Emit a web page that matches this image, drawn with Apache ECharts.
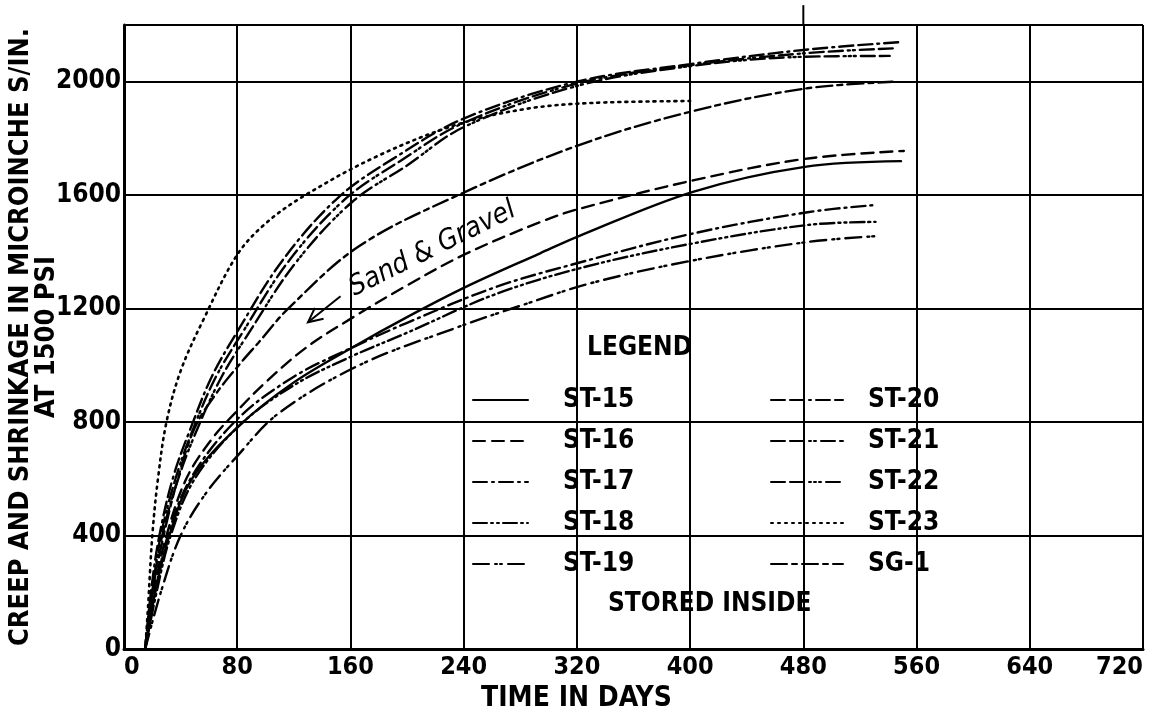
<!DOCTYPE html>
<html>
<head>
<meta charset="utf-8">
<title>Creep and shrinkage, stored inside</title>
<script src="https://cdn.jsdelivr.net/npm/echarts@6/dist/echarts.min.js"></script>
<style>
  html, body { margin: 0; padding: 0; background: #fff; }
  #chart { width: 1154px; height: 709px; }
</style>
</head>
<body>
<div id="chart"></div>
<script>
// lettering font (condensed, like the drafting letters)
var FONT = '"DejaVu Sans Condensed", "Liberation Sans Narrow", "DejaVu Sans", sans-serif';

// ---- axes ----
var xMax = 720, xStep = 80;
var yMax = 2200, yStep = 400;

// ---- curves: [days, microinches/in] ----
var st15 = [[15,0],[22,200],[32,400],[48,600],[82,790],[120,940],[162,1065],[200,1170],[243,1280],[294,1395],[321,1455],[402,1612],[481,1700],[549,1720]];
var st16 = [[15,0],[21,200],[30,400],[44,600],[62,740],[80,840],[100,940],[128,1060],[162,1170],[200,1282],[241,1392],[294,1505],[321,1551],[402,1652],[481,1728],[551,1756]];
var st17 = [[15,0],[22,200],[31,400],[47,600],[80,810],[120,960],[160,1060],[200,1150],[262,1275],[320,1360],[402,1465],[483,1540],[530,1565]];
var st18 = [[15,0],[23,200],[33,400],[50,600],[82,790],[120,930],[160,1030],[200,1115],[262,1250],[324,1345],[402,1430],[483,1495],[531,1506]];
var st19 = [[15,0],[26,200],[40,400],[58,550],[80,680],[109,830],[166,1000],[236,1135],[283,1215],[330,1290],[402,1370],[483,1435],[533,1456]];
var st20 = [[15,0],[19,200],[25,400],[35,610],[48,790],[62,960],[79,1110],[112,1370],[151,1590],[190,1728],[240,1870],[320,2000],[400,2062],[480,2112],[549,2140]];
var st21 = [[15,0],[20,200],[26,400],[37,610],[50,790],[65,960],[83,1110],[116,1365],[156,1585],[195,1720],[240,1855],[320,1993],[400,2058],[480,2100],[545,2118]];
var st22 = [[15,0],[20,200],[27,400],[39,610],[53,790],[69,960],[87,1105],[121,1360],[161,1575],[200,1705],[240,1840],[320,1985],[400,2055],[480,2088],[541,2091]];
var st23 = [[15,0],[17,150],[20,400],[24,600],[30,800],[40,980],[56,1160],[80,1390],[100,1500],[128,1600],[180,1740],[236,1850],[285,1905],[330,1925],[400,1932]];
var sg1  = [[15,0],[20,200],[28,400],[38,600],[50,780],[65,900],[81,1000],[95,1080],[116,1200],[166,1420],[236,1600],[320,1774],[400,1894],[480,1975],[543,2000]];

var names1 = ['ST-15', 'ST-16', 'ST-17', 'ST-18', 'ST-19'];
var names2 = ['ST-20', 'ST-21', 'ST-22', 'ST-23', 'SG-1'];
var curves = [st15, st16, st17, st18, st19, st20, st21, st22, st23, sg1];
// line patterns as in the legend
var dashes = [
  'solid',
  [12, 7],
  [14, 5, 2, 5],
  [14, 4, 2, 4, 2, 4],
  [16, 6, 2, 3, 2, 6],
  [14, 5, 14, 5, 2, 5],
  [14, 5, 14, 5, 2, 3, 2, 5],
  [14, 5, 14, 5, 2, 3, 2, 3, 2, 5],
  [2, 5],
  [16, 5, 5, 5]
];

// annotation, in data units
var noteText = 'Sand & Gravel';
var notePos = [218, 1410];
var arrowFrom = [153, 1244];
var arrowTo = [130, 1152];
// the 480-day grid line runs on above the frame
var overrun = [[480, 2200], [480, 2270]];

var chart = echarts.init(document.getElementById('chart'));

var allNames = names1.concat(names2);
var series = [];
for (var i = 0; i < curves.length; i++) {
  series.push({
    name: allNames[i],
    type: 'line',
    data: curves[i],
    symbol: 'none',
    smooth: 0.35,
    silent: true,
    color: '#000',
    itemStyle: { color: '#000' },
    lineStyle: { color: '#000', width: i == 8 ? 2.6 : 2.4, type: dashes[i], cap: 'round' }
  });
}

var legendBase = {
  orient: 'vertical',
  top: 382,
  itemHeight: 14,
  itemGap: 15,
  selectedMode: false,
  itemStyle: { opacity: 0 },
  textStyle: { fontFamily: FONT, fontWeight: 'bold', fontSize: 26, lineHeight: 22, color: '#000' }
};

var notes = [
  { type: 'text', left: 587, top: 335,
    style: { text: 'LEGEND', font: 'bold 26px ' + FONT, fill: '#000' } },
  { type: 'text', left: 608, top: 591,
    style: { text: 'STORED INSIDE', font: 'bold 26px ' + FONT, fill: '#000' } }
];

option = {
  animation: false,
  backgroundColor: '#fff',
  grid: { left: 124, right: 11, top: 25, bottom: 60, containLabel: false, outerBoundsMode: 'none' },
  xAxis: {
    type: 'value',
    min: 0, max: xMax, interval: xStep,
    name: 'TIME IN DAYS',
    nameLocation: 'middle',
    nameGap: 24,
    nameTextStyle: { fontFamily: FONT, fontWeight: 'bold', fontSize: 28, color: '#000', padding: [0, 114, 0, 0] },
    axisLine: { lineStyle: { color: '#000', width: 3 } },
    axisTick: { show: false },
    axisLabel: { fontFamily: FONT, fontWeight: 'bold', fontSize: 25, color: '#000', margin: 6,
                 alignMinLabel: 'left', alignMaxLabel: 'right' },
    splitLine: { show: true, lineStyle: { color: '#000', width: 2 } }
  },
  yAxis: {
    type: 'value',
    min: 0, max: yMax, interval: yStep,
    name: 'CREEP AND SHRINKAGE IN MICROINCHE S/IN.\nAT 1500 PSI',
    nameLocation: 'middle',
    nameRotate: 90,
    nameGap: 64,
    nameMoveOverlap: false,
    nameTextStyle: { fontFamily: FONT, fontWeight: 'bold', fontSize: 27, lineHeight: 26, color: '#000', align: 'center' },
    axisLine: { show: true, lineStyle: { color: '#000', width: 3 } },
    axisTick: { show: false },
    axisLabel: { fontFamily: FONT, fontWeight: 'bold', fontSize: 26, color: '#000', margin: 3, showMaxLabel: false,
                 formatter: function (v) { return String(v); } },
    splitLine: { show: true, lineStyle: { color: '#000', width: 2 } }
  },
  legend: [
    Object.assign({}, legendBase, { left: 467, itemWidth: 55, data: names1,
      textStyle: Object.assign({}, legendBase.textStyle, { padding: [0, 0, 0, 30] }) }),
    Object.assign({}, legendBase, { left: 765, itemWidth: 72, data: names2,
      textStyle: Object.assign({}, legendBase.textStyle, { padding: [0, 0, 0, 20] }) })
  ],
  graphic: notes,
  series: series
};
chart.setOption(option);

// arrow, rotated note and grid overrun placed through the axes
function px(p) { return chart.convertToPixel({ gridIndex: 0 }, p); }
var p0 = px(arrowFrom), p1 = px(arrowTo), pn = px(notePos);
var ang = Math.atan2(p0[1] - p1[1], p0[0] - p1[0]);
function barb(d) {
  return [p1[0] + 16 * Math.cos(ang + d), p1[1] + 16 * Math.sin(ang + d)];
}
chart.setOption({
  graphic: notes.concat([
    { type: 'text', x: pn[0], y: pn[1], rotation: 26.4 * Math.PI / 180,
      style: { text: noteText, font: 'italic 28px ' + FONT, fill: '#000', align: 'center', verticalAlign: 'middle' } },
    { type: 'polyline', shape: { points: [p0, p1] }, style: { stroke: '#000', lineWidth: 2 } },
    { type: 'polyline', shape: { points: [barb(0.45), p1, barb(-0.45)] }, style: { stroke: '#000', lineWidth: 2, fill: null } },
    { type: 'polyline', shape: { points: overrun.map(px) }, style: { stroke: '#000', lineWidth: 2 } }
  ])
});
</script>
</body>
</html>
